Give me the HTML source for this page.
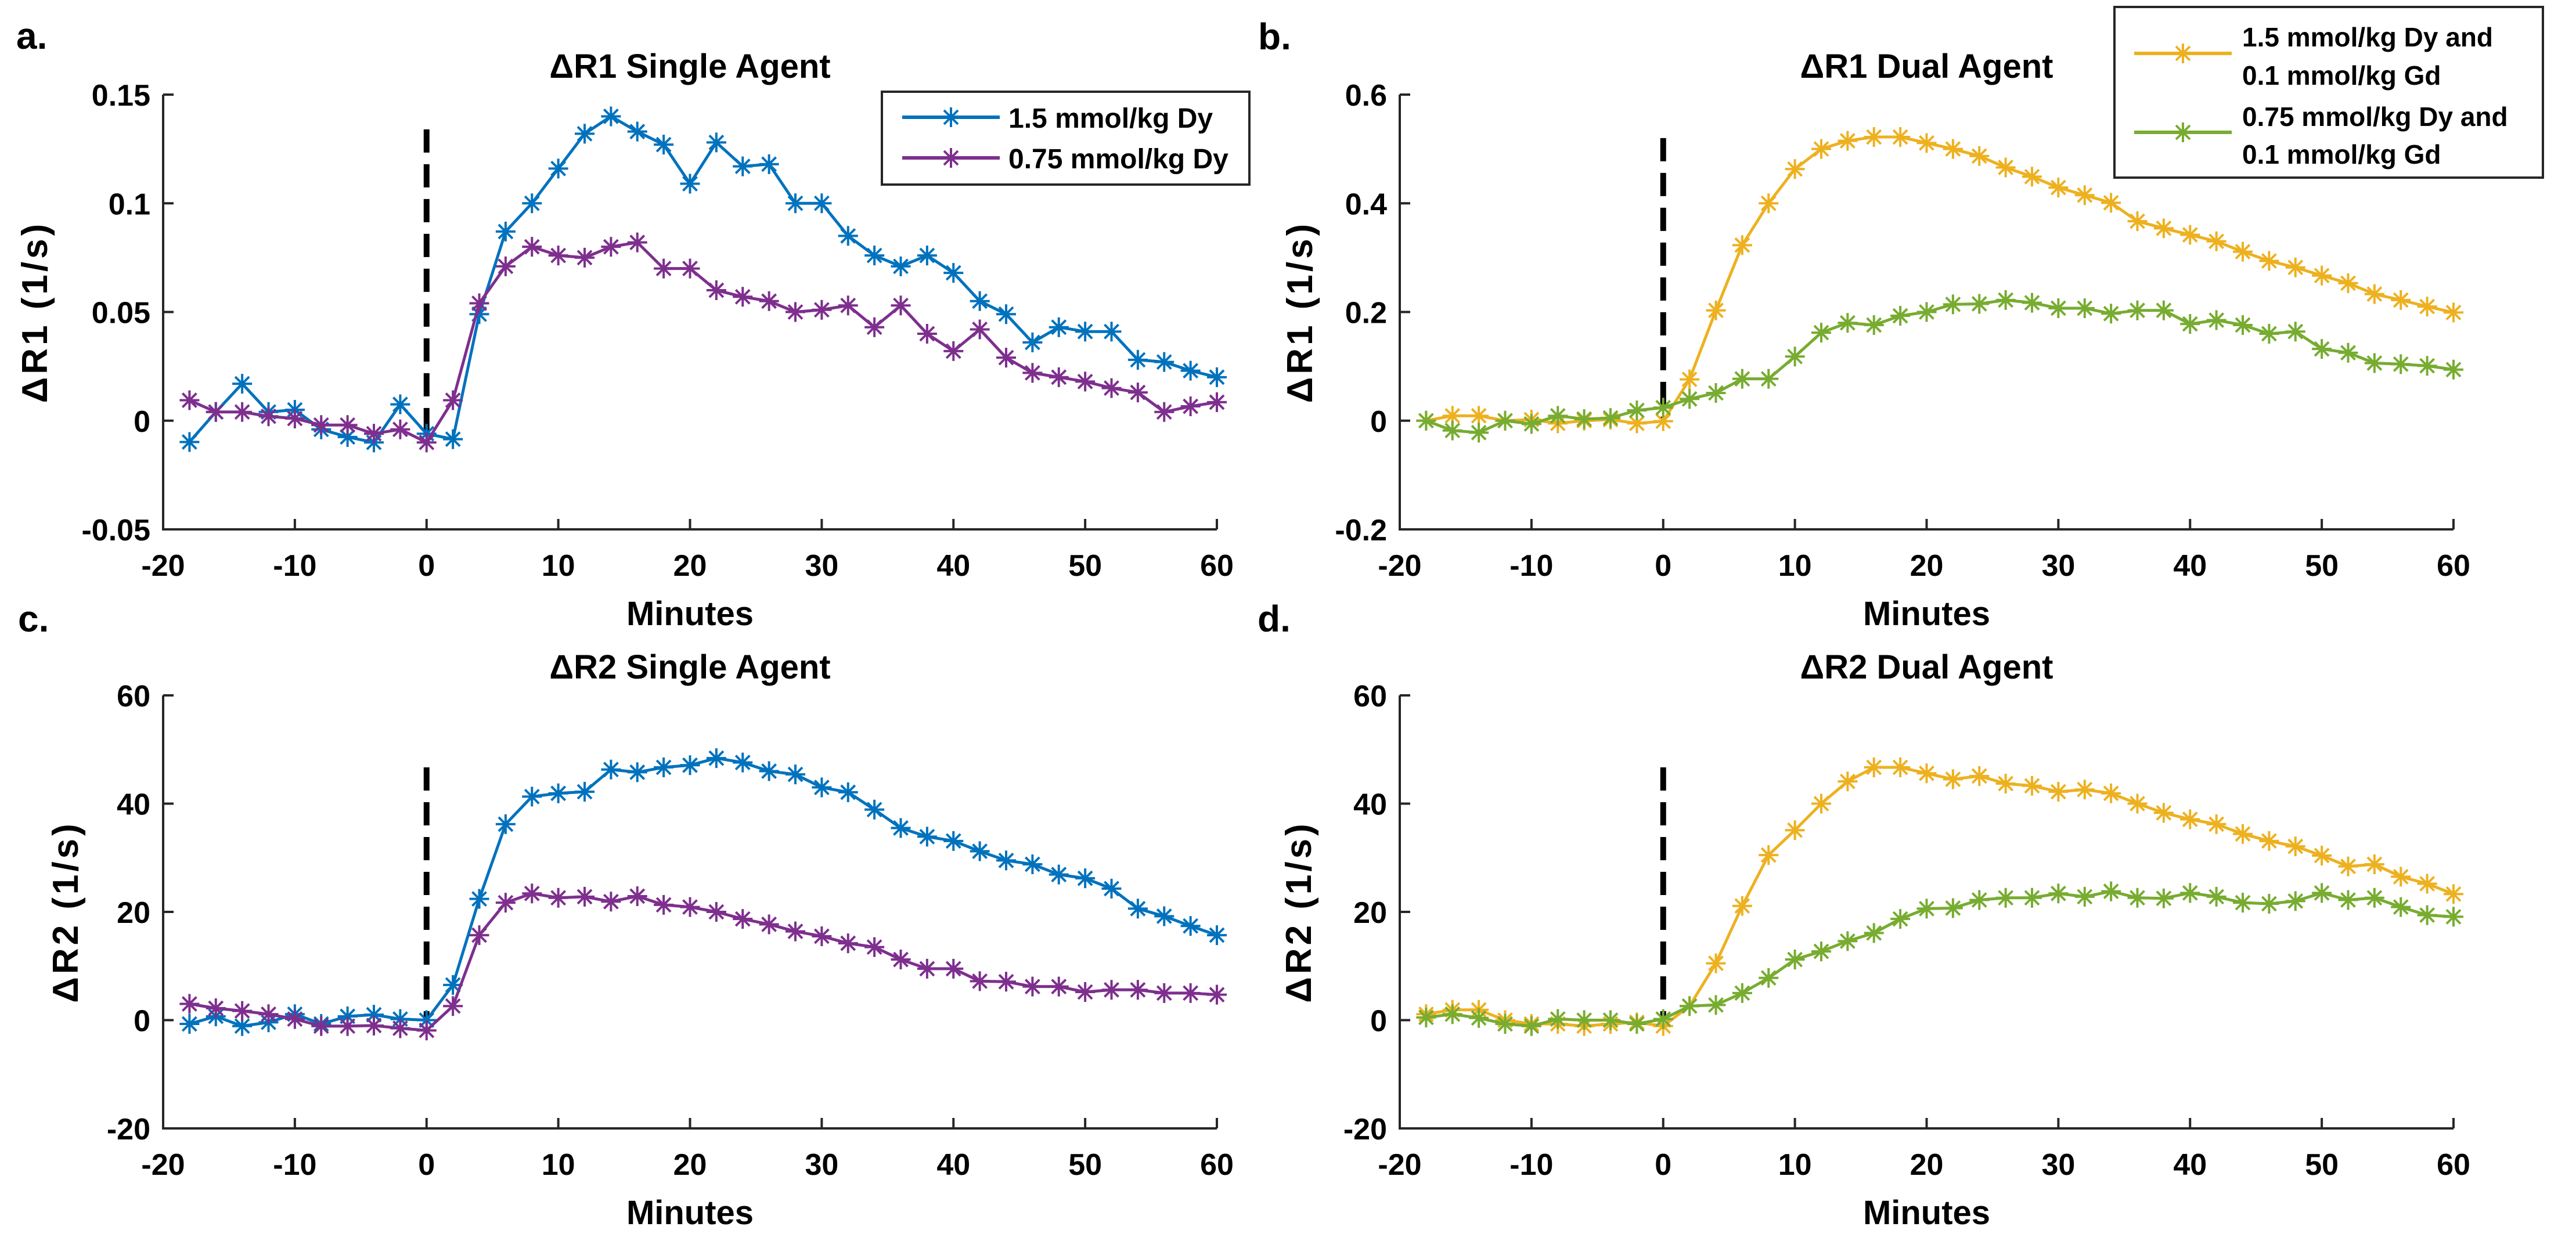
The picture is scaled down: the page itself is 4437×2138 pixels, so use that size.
<!DOCTYPE html>
<html><head><meta charset="utf-8"><style>
html,body{margin:0;padding:0;background:#fff;}
svg{display:block;}
text{font-family:"Liberation Sans",Arial,sans-serif;font-weight:bold;fill:#000;}
</style></head>
<body>
<svg id="fig" xmlns="http://www.w3.org/2000/svg" width="4437" height="2138" viewBox="0 0 4437 2138">
<rect x="0" y="0" width="4437" height="2138" fill="#fff"/>
</svg>
<script>
const minutes = [-18,-16,-14,-12,-10,-8,-6,-4,-2,0,2,4,6,8,10,12,14,16,18,20,22,24,26,28,30,32,34,36,38,40,42,44,46,48,50,52,54,56,58,60];
const xTicks = [-20,-10,0,10,20,30,40,50,60];

const r1Dy15 = [-0.0098,0.004,0.017,0.004,0.005,-0.004,-0.0075,-0.01,0.0075,-0.006,-0.0085,0.049,0.087,0.1,0.116,0.132,0.14,0.133,0.127,0.109,0.128,0.117,0.118,0.1,0.1,0.085,0.076,0.071,0.076,0.068,0.055,0.049,0.036,0.043,0.041,0.041,0.028,0.027,0.023,0.02];
const r1Dy075 = [0.0094,0.004,0.004,0.002,0.001,-0.002,-0.002,-0.006,-0.004,-0.01,0.0094,0.054,0.071,0.08,0.076,0.075,0.08,0.082,0.07,0.07,0.06,0.057,0.055,0.05,0.051,0.053,0.043,0.053,0.04,0.032,0.042,0.029,0.022,0.02,0.018,0.015,0.013,0.004,0.0066,0.0085];
const r1DualHigh = [0,0.009,0.009,0,0.002,-0.005,0,0.002,-0.005,-0.001,0.076,0.203,0.323,0.4,0.463,0.5,0.515,0.522,0.522,0.511,0.5,0.487,0.466,0.449,0.429,0.415,0.401,0.367,0.354,0.342,0.33,0.311,0.294,0.282,0.267,0.253,0.233,0.222,0.21,0.199];
const r1DualLow = [0,-0.018,-0.022,0,-0.006,0.009,0.003,0.005,0.019,0.024,0.04,0.051,0.077,0.077,0.118,0.162,0.18,0.176,0.193,0.2,0.214,0.215,0.222,0.217,0.207,0.207,0.197,0.203,0.203,0.178,0.185,0.176,0.16,0.164,0.132,0.125,0.106,0.104,0.101,0.094];
const r2Dy15 = [-0.7,0.7,-1.1,-0.4,1.1,-0.7,0.7,1,0.2,0,6.5,22.4,36.2,41.3,41.9,42.2,46.3,45.8,46.7,47.1,48.4,47.6,46,45.4,43,42.1,38.9,35.5,33.9,33.1,31.2,29.5,28.8,26.9,26.2,24.3,20.6,19.2,17.4,15.7];
const r2Dy075 = [3,2.2,1.7,1.1,0.2,-1.1,-1.1,-1,-1.5,-1.9,2.6,15.7,21.7,23.4,22.6,22.8,21.9,22.9,21.3,20.9,20,18.7,17.7,16.4,15.5,14.2,13.5,11.2,9.5,9.5,7.2,7.1,6.2,6.2,5.2,5.6,5.6,5,5,4.7];
const r2DualHigh = [1.1,1.9,1.9,0,-0.7,-0.7,-1.1,-0.7,-0.4,-1.1,2.6,10.5,21.1,30.5,35.1,40,44.1,46.7,46.7,45.6,44.5,45.1,43.7,43.3,42.2,42.6,41.9,40,38.3,37.1,36.2,34.4,33.1,32.1,30.4,28.4,28.8,26.5,25.2,23.3];
const r2DualLow = [0.5,1.1,0.4,-0.7,-1.1,0.2,0,0,-0.7,0.2,2.6,2.8,5,7.8,11.2,12.7,14.6,16.1,18.7,20.6,20.7,22.2,22.6,22.6,23.4,22.8,23.8,22.6,22.5,23.5,22.8,21.7,21.5,22,23.5,22.2,22.6,20.9,19.4,19.1];

const yTicksR1Single = [-0.05,0,0.05,0.1,0.15];
const yTickLabelsR1Single = ["-0.05","0","0.05","0.1","0.15"];
const yTicksR1Dual = [-0.2,0,0.2,0.4,0.6];
const yTickLabelsR1Dual = ["-0.2","0","0.2","0.4","0.6"];
const yTicksR2 = [-20,0,20,40,60];
const yTickLabelsR2 = ["-20","0","20","40","60"];

const svg = document.getElementById('fig');
const NS = 'http://www.w3.org/2000/svg';
function mk(tag, attrs, parent){
  const e = document.createElementNS(NS, tag);
  for (const k in attrs) e.setAttribute(k, attrs[k]);
  (parent||svg).appendChild(e);
  return e;
}

const BLUE='#0072BD', PURPLE='#7E2F8E', ORANGE='#EDB120', GREEN='#77AC30';

function panel(p){
  const g = mk('g', {});
  
  
  const L=p.left, R=p.left+1815, T=p.top, B=p.top+p.h;
  const xs = v => L + (v+20)/80*(R-L);
  const ys = v => B - (v-p.ymin)/(p.ymax-p.ymin)*(B-T);

  // panel letter
  const pl = mk('text', {x:p.lx, y:p.ly, 'font-size':64}, g);
  pl.textContent = p.letter;
  
  

  // title
  const tt = mk('text', {x:(L+R)/2, y:T-29, 'font-size':58, 'text-anchor':'middle'}, g);
  tt.textContent = p.title;
  
  

  // axes
  const ax = mk('path', {d:`M${L},${T} L${L},${B} L${R},${B}`, stroke:'#262626', 'stroke-width':4, fill:'none'}, g);
  
  

  xTicks.forEach(v=>{
    const x=xs(v);
    mk('line',{x1:x,y1:B,x2:x,y2:B-18,stroke:'#262626','stroke-width':4},g);
    const t = mk('text',{x:x,y:B+80,'font-size':52,'text-anchor':'middle'},g);
    t.textContent = String(v);
    
    
  });
  p.yt.forEach((v,i)=>{
    const y=ys(v);
    mk('line',{x1:L,y1:y,x2:L+18,y2:y,stroke:'#262626','stroke-width':4},g);
    const t = mk('text',{x:L-22,y:y+19,'font-size':52,'text-anchor':'end'},g);
    t.textContent = p.ytl[i];
    
    
  });

  const xl = mk('text',{x:(L+R)/2,y:B+165,'font-size':58,'text-anchor':'middle'},g);
  xl.textContent='Minutes';
  
  

  const yl = mk('text',{x:0,y:0,'font-size':62,'text-anchor':'middle','letter-spacing':'5',
    transform:`translate(${L-p.ylOff+22},${(T+B)/2}) rotate(-90)`},g);
  yl.textContent=p.ylabel;
  
  

  // dashed injection line
  const dl = mk('line',{x1:xs(0),y1:ys(p.dashTop),x2:xs(0),y2:ys(p.dashBot),stroke:'#000','stroke-width':10,'stroke-dasharray':'40 20'},g);
  
  

  p.series.forEach(s=>{
    const sg = mk('g',{},g);
    
    
    const pts = minutes.map((m,i)=>[xs(m), ys(s.data[i])]);
    mk('polyline',{points:pts.map(q=>q.join(',')).join(' '),fill:'none',stroke:s.color,'stroke-width':5,'stroke-linejoin':'round'},sg);
    pts.forEach(q=>{
      const r=17, d=12;
      mk('path',{d:`M${q[0]},${q[1]-r}V${q[1]+r}M${q[0]-r},${q[1]}H${q[0]+r}M${q[0]-d},${q[1]-d}L${q[0]+d},${q[1]+d}M${q[0]-d},${q[1]+d}L${q[0]+d},${q[1]-d}`,stroke:s.color,'stroke-width':4,fill:'none'},sg);
    });
  });
  return g;
}

function marker(x,y,c,parent){
  const r=17,d=12;
  mk('line',{x1:x-84,y1:y,x2:x+84,y2:y,stroke:c,'stroke-width':6},parent);
  mk('path',{d:`M${x},${y-r}V${y+r}M${x-d},${y-d}L${x+d},${y+d}M${x-d},${y+d}L${x+d},${y-d}`,stroke:c,'stroke-width':4,fill:'none'},parent);
}

panel({name:'panel-a-r1-single',letter:'a.',lx:28,ly:84,left:281,top:163,h:749,ymin:-0.05,ymax:0.15,
  yt:yTicksR1Single,ytl:yTickLabelsR1Single,title:'ΔR1 Single Agent',ylabel:'ΔR1 (1/s)',ylOff:222,dashTop:0.134,dashBot:-0.005,
  series:[{name:'series-1.5-dy',color:BLUE,data:r1Dy15},{name:'series-0.75-dy',color:PURPLE,data:r1Dy075}]});
panel({name:'panel-b-r1-dual',letter:'b.',lx:2167,ly:85,left:2411,top:163,h:749,ymin:-0.2,ymax:0.6,
  yt:yTicksR1Dual,ytl:yTickLabelsR1Dual,title:'ΔR1 Dual Agent',ylabel:'ΔR1 (1/s)',ylOff:173,dashTop:0.52,dashBot:0,
  series:[{name:'series-1.5-dy-gd',color:ORANGE,data:r1DualHigh},{name:'series-0.75-dy-gd',color:GREEN,data:r1DualLow}]});
panel({name:'panel-c-r2-single',letter:'c.',lx:31,ly:1088,left:281,top:1198,h:746,ymin:-20,ymax:60,
  yt:yTicksR2,ytl:yTickLabelsR2,title:'ΔR2 Single Agent',ylabel:'ΔR2 (1/s)',ylOff:169,dashTop:46.7,dashBot:0,
  series:[{name:'series-1.5-dy',color:BLUE,data:r2Dy15},{name:'series-0.75-dy',color:PURPLE,data:r2Dy075}]});
panel({name:'panel-d-r2-dual',letter:'d.',lx:2166,ly:1088,left:2411,top:1198,h:746,ymin:-20,ymax:60,
  yt:yTicksR2,ytl:yTickLabelsR2,title:'ΔR2 Dual Agent',ylabel:'ΔR2 (1/s)',ylOff:175,dashTop:46.7,dashBot:0,
  series:[{name:'series-1.5-dy-gd',color:ORANGE,data:r2DualHigh},{name:'series-0.75-dy-gd',color:GREEN,data:r2DualLow}]});

// legend a
const lgA = mk('g',{});


mk('rect',{x:1519,y:158,width:633,height:160,fill:'#fff',stroke:'#262626','stroke-width':4},lgA);
marker(1638,202,BLUE,lgA);
marker(1638,272,PURPLE,lgA);
const la1 = mk('text',{x:1737,y:220,'font-size':48},lgA); la1.textContent='1.5 mmol/kg Dy';


const la2 = mk('text',{x:1737,y:290,'font-size':48},lgA); la2.textContent='0.75 mmol/kg Dy';



// legend b
const lgB = mk('g',{});


mk('rect',{x:3642,y:12,width:738,height:294,fill:'#fff',stroke:'#262626','stroke-width':4},lgB);
marker(3760,92,ORANGE,lgB);
marker(3760,228,GREEN,lgB);
[['1.5 mmol/kg Dy and',80],['0.1 mmol/kg Gd',146],['0.75 mmol/kg Dy and',217],['0.1 mmol/kg Gd',282]].forEach(a=>{
  const t = mk('text',{x:3862,y:a[1],'font-size':46},lgB);
  t.textContent=a[0];
  
  
});
</script>
</body></html>
